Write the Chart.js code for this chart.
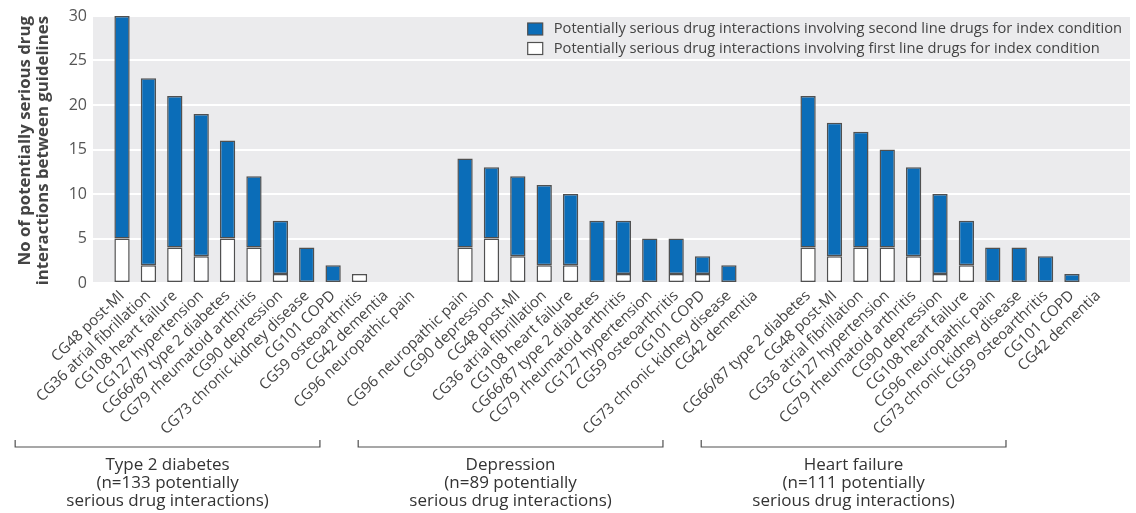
<!DOCTYPE html>
<html lang="en">
<head>
<meta charset="UTF-8" />
<title>Potentially serious drug interactions between guidelines</title>
<style>
  html, body { margin: 0; padding: 0; background: #fff; }
</style>
<script src="https://cdn.jsdelivr.net/npm/chart.js@4.4.1/dist/chart.umd.min.js"></script>
</head>
<body>
<canvas id="chart" width="1136" height="513"></canvas>
<script>
// Type 2 diabetes as index condition
const diabetesLabels = ['CG48 post-MI', 'CG36 atrial fibrillation', 'CG108 heart failure', 'CG127 hypertension',
  'CG66/87 type 2 diabetes', 'CG79 rheumatoid arthritis', 'CG90 depression', 'CG73 chronic kidney disease',
  'CG101 COPD', 'CG59 osteoarthritis', 'CG42 dementia', 'CG96 neuropathic pain'];
const diabetesFirst = [5, 2, 4, 3, 5, 4, 1, 0, 0, 1, 0, 0];
const diabetesSecond = [25, 21, 17, 16, 11, 8, 6, 4, 2, 0, 0, 0];

// Depression as index condition
const depressionLabels = ['CG96 neuropathic pain', 'CG90 depression', 'CG48 post-MI', 'CG36 atrial fibrillation',
  'CG108 heart failure', 'CG66/87 type 2 diabetes', 'CG79 rheumatoid arthritis', 'CG127 hypertension',
  'CG59 osteoarthritis', 'CG101 COPD', 'CG73 chronic kidney disease', 'CG42 dementia'];
const depressionFirst = [4, 5, 3, 2, 2, 0, 1, 0, 1, 1, 0, 0];
const depressionSecond = [10, 8, 9, 9, 8, 7, 6, 5, 4, 2, 2, 0];

// Heart failure as index condition
const heartLabels = ['CG66/87 type 2 diabetes', 'CG48 post-MI', 'CG36 atrial fibrillation', 'CG127 hypertension',
  'CG79 rheumatoid arthritis', 'CG90 depression', 'CG108 heart failure', 'CG96 neuropathic pain',
  'CG73 chronic kidney disease', 'CG59 osteoarthritis', 'CG101 COPD', 'CG42 dementia'];
const heartFirst = [4, 3, 4, 4, 3, 1, 2, 0, 0, 0, 0, 0];
const heartSecond = [17, 15, 13, 11, 10, 9, 5, 4, 4, 3, 1, 0];

const groupTitles = [
  ['Type 2 diabetes', '(n=133 potentially', 'serious drug interactions)'],
  ['Depression', '(n=89 potentially', 'serious drug interactions)'],
  ['Heart failure', '(n=111 potentially', 'serious drug interactions)']
];
const legendTexts = ['Potentially serious drug interactions involving second line drugs for index condition',
  'Potentially serious drug interactions involving first line drugs for index condition'];
const yTitle = ['No of potentially serious drug', 'interactions between guidelines'];

// one empty slot between the groups
const allLabels = [...diabetesLabels, '', ...depressionLabels, '', ...heartLabels];
const allFirst = [...diabetesFirst, null, ...depressionFirst, null, ...heartFirst];
const allSecond = [...diabetesSecond, null, ...depressionSecond, null, ...heartSecond];

const toPoints = arr => arr.map((v, i) => ({ x: i, y: v })).filter(p => p.y !== null);

// bracket extents under each group, in x axis units
const bracketSpans = [[-4.05, 7.5], [8.95, 20.5], [21.95, 33.5]];

const BLUE = '#0b6db8';
const EDGE = '#505050';

Chart.defaults.font.family = '"Open Sans", sans-serif';

const backdrop = {
  id: 'backdrop',
  beforeDraw(chart) {
    const { ctx, chartArea: a } = chart;
    ctx.save();
    ctx.fillStyle = '#ebebed';
    ctx.fillRect(a.left, a.top, a.right - a.left, a.bottom - a.top);
    ctx.restore();
  }
};

const legendBox = {
  id: 'legendBox',
  afterDraw(chart) {
    const { ctx, chartArea: a } = chart;
    ctx.save();
    ctx.font = '14.7px "Open Sans", sans-serif';
    const w = Math.max(...legendTexts.map(t => ctx.measureText(t).width));
    const textX = a.right - 8 - w;
    const boxX = textX - 26;
    const fills = [BLUE, '#ffffff'];
    legendTexts.forEach((t, i) => {
      const cy = a.top + 13 + i * 19.5;
      ctx.fillStyle = fills[i];
      ctx.fillRect(boxX, cy - 6, 15, 12);
      ctx.strokeStyle = EDGE;
      ctx.lineWidth = 1.2;
      ctx.strokeRect(boxX, cy - 6, 15, 12);
      ctx.fillStyle = '#444';
      ctx.textBaseline = 'middle';
      ctx.fillText(t, textX, cy);
    });
    ctx.restore();
  }
};

const groupBrackets = {
  id: 'groupBrackets',
  afterDraw(chart) {
    const { ctx, chartArea: a } = chart;
    const x = chart.scales.x;
    const y0 = a.bottom + 164;
    ctx.save();
    ctx.strokeStyle = EDGE;
    ctx.lineWidth = 1.2;
    ctx.fillStyle = '#333';
    ctx.font = '17px "Open Sans", sans-serif';
    ctx.textAlign = 'center';
    ctx.textBaseline = 'middle';
    bracketSpans.forEach((span, g) => {
      const x1 = x.getPixelForValue(span[0]);
      const x2 = x.getPixelForValue(span[1]);
      ctx.beginPath();
      ctx.moveTo(x1, y0 - 7);
      ctx.lineTo(x1, y0);
      ctx.lineTo(x2, y0);
      ctx.lineTo(x2, y0 - 7);
      ctx.stroke();
      groupTitles[g].forEach((line, i) => {
        ctx.fillText(line, (x1 + x2) / 2, y0 + 18 + i * 18);
      });
    });
    ctx.restore();
  }
};

const ctx = document.getElementById('chart').getContext('2d');
new Chart(ctx, {
  type: 'bar',
  data: {
    datasets: [
      {
        label: legendTexts[1],
        data: toPoints(allFirst),
        backgroundColor: '#ffffff',
        borderColor: EDGE,
        borderWidth: 1.5,
        borderSkipped: false
      },
      {
        label: legendTexts[0],
        data: toPoints(allSecond),
        backgroundColor: BLUE,
        borderColor: EDGE,
        borderWidth: 1.5,
        borderSkipped: false
      }
    ]
  },
  options: {
    responsive: false,
    animation: false,
    layout: { padding: { top: 16, right: 6, bottom: 0, left: 0 } },
    datasets: { bar: { barPercentage: 0.58, categoryPercentage: 1 } },
    plugins: { legend: { display: false }, tooltip: { enabled: false } },
    scales: {
      x: {
        type: 'linear',
        stacked: true,
        offset: false,
        min: -1.1,
        max: 38.2,
        grid: { display: false, drawTicks: false },
        border: { display: false },
        afterBuildTicks: s => { s.ticks = allLabels.map((_, i) => ({ value: i })); },
        afterFit: s => { s.height = 230; },
        ticks: {
          autoSkip: false,
          minRotation: 44,
          maxRotation: 44,
          padding: 4,
          color: '#444',
          font: { size: 15 },
          callback: v => allLabels[v]
        }
      },
      y: {
        stacked: true,
        min: 0,
        max: 30,
        grid: { color: '#ffffff', lineWidth: 2, drawTicks: false },
        border: { display: false },
        afterFit: s => { s.width = 93; },
        ticks: { stepSize: 5, padding: 6, color: '#555', font: { size: 16 } },
        title: {
          display: true,
          text: yTitle,
          align: 'end',
          color: '#444',
          font: { size: 16.8, weight: 'bold', lineHeight: 1.07 },
          padding: { top: 16, bottom: 0 }
        }
      }
    }
  },
  plugins: [backdrop, legendBox, groupBrackets]
});
</script>
</body>
</html>
